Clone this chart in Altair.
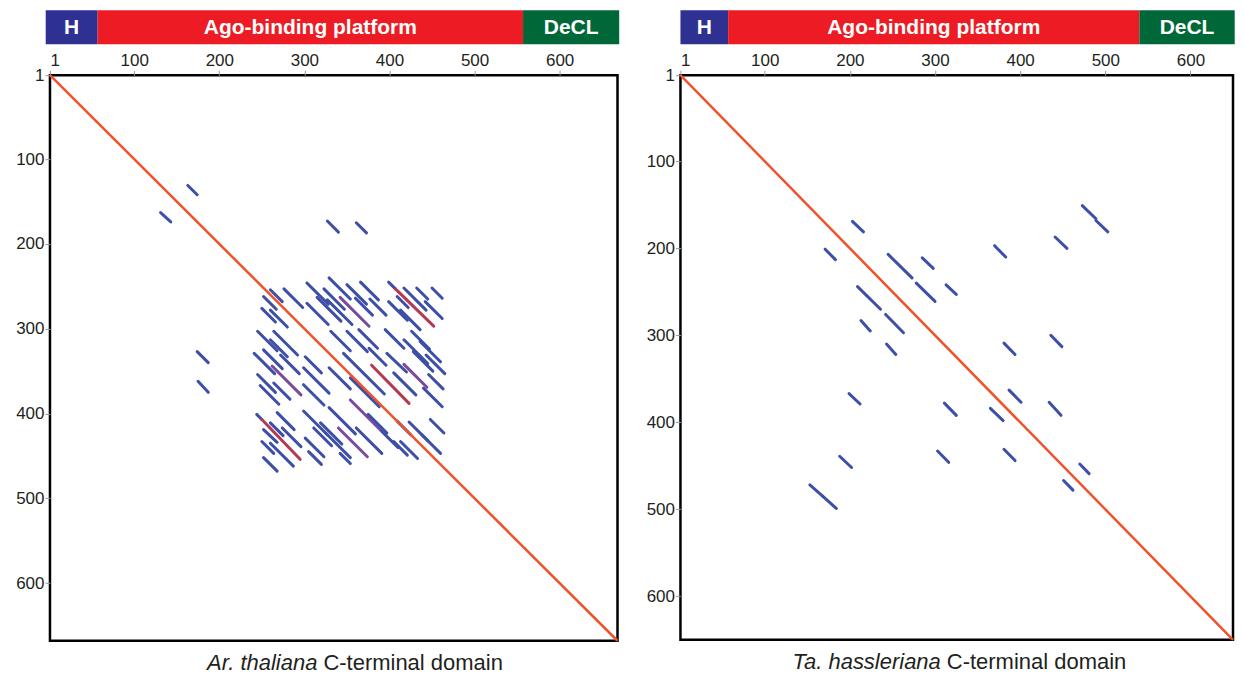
import altair as alt
import pandas as pd

FONT = "Liberation Sans"
TEXT_COLOR = "#231f20"
SEG_COLORS = {"b": "#3d4fa6", "p": "#7a4a9c", "r": "#b23a52"}
DIAG_COLOR = "#f0522a"

# sequence lengths
at_len = 668
th_len = 650

# domain annotation bars
domain_names = ["H", "Ago-binding platform", "DeCL"]
domain_colors = ["#2e3192", "#ed1c24", "#006838"]
at_domain_start = [-4, 57, 557]
at_domain_end = [57, 557, 670]
th_domain_start = [1, 57, 540]
th_domain_end = [57, 540, 652]

tick_values = [1, 100, 200, 300, 400, 500, 600]

# dot-plot matches: (x1, y1, x2, y2, kind)  kind: b=blue, p=purple, r=red
at_segments = [
    (163, 131, 174, 142, "b"), (131, 163, 143, 174, "b"),
    (327, 173, 340, 186, "b"), (361, 175, 373, 187, "b"),
    (174, 327, 187, 340, "b"), (175, 362, 187, 375, "b"),
    # top band
    (303, 246, 328, 271, "b"), (329, 240, 354, 265, "b"), (350, 248, 373, 271, "b"),
    (366, 245, 387, 266, "b"), (323, 253, 347, 277, "b"), (303, 270, 328, 295, "b"),
    (315, 263, 343, 291, "b"), (327, 266, 356, 295, "b"), (342, 263, 376, 297, "p"),
    (360, 264, 380, 284, "b"), (377, 265, 396, 284, "b"), (399, 245, 407, 253, "b"),
    (407, 253, 452, 297, "r"), (409, 262, 422, 275, "b"), (417, 252, 443, 278, "b"),
    (432, 252, 445, 265, "b"), (450, 252, 462, 264, "b"), (399, 268, 421, 290, "b"),
    (413, 278, 436, 301, "b"), (442, 268, 462, 288, "b"), (260, 254, 274, 268, "b"),
    (276, 253, 298, 275, "b"), (252, 262, 267, 277, "b"), (250, 276, 266, 292, "b"),
    (260, 278, 280, 298, "b"),
    # middle band
    (245, 303, 268, 326, "b"), (264, 303, 292, 331, "b"), (260, 313, 280, 333, "b"),
    (241, 329, 265, 353, "b"), (252, 325, 274, 347, "b"), (262, 344, 296, 378, "p"),
    (272, 331, 294, 353, "b"), (245, 354, 266, 375, "b"), (248, 367, 270, 389, "b"),
    (264, 364, 283, 383, "b"), (301, 333, 320, 352, "b"), (299, 366, 323, 390, "b"),
    (299, 346, 329, 376, "b"), (331, 303, 354, 326, "b"), (350, 303, 374, 327, "b"),
    (364, 301, 386, 323, "b"), (346, 329, 394, 377, "b"), (329, 346, 354, 371, "b"),
    (354, 358, 388, 392, "b"), (379, 343, 423, 388, "r"), (376, 323, 396, 343, "b"),
    (395, 301, 417, 323, "b"), (397, 329, 420, 351, "b"), (405, 352, 431, 378, "b"),
    (417, 342, 444, 369, "p"), (417, 313, 445, 341, "b"), (426, 303, 447, 324, "b"),
    (436, 315, 460, 339, "b"), (428, 327, 451, 350, "b"), (443, 331, 465, 353, "b"),
    (446, 354, 463, 371, "b"), (440, 370, 462, 392, "b"),
    # bottom band
    (244, 401, 250, 407, "b"), (250, 407, 295, 454, "r"), (260, 411, 275, 426, "b"),
    (252, 419, 268, 434, "b"), (250, 433, 264, 447, "b"), (268, 399, 288, 419, "b"),
    (274, 417, 296, 439, "b"), (252, 452, 268, 468, "b"), (260, 435, 287, 462, "b"),
    (299, 397, 327, 425, "b"), (311, 417, 332, 438, "b"), (301, 429, 323, 451, "b"),
    (305, 445, 320, 460, "b"), (319, 411, 344, 436, "b"), (325, 423, 354, 452, "b"),
    (340, 417, 374, 451, "p"), (329, 393, 360, 424, "b"), (342, 447, 354, 459, "b"),
    (361, 417, 391, 447, "b"), (354, 384, 390, 420, "p"), (375, 401, 397, 423, "b"),
    (391, 421, 410, 440, "b"), (405, 433, 421, 449, "b"), (409, 409, 425, 425, "b"),
    (413, 433, 433, 453, "b"), (423, 410, 445, 432, "b"), (448, 407, 464, 423, "b"),
    (438, 425, 460, 447, "b"),
]

th_segments = [
    (473, 151, 489, 166, "b"), (489, 168, 503, 181, "b"), (203, 169, 216, 181, "b"),
    (171, 201, 183, 213, "b"), (370, 197, 383, 210, "b"), (441, 187, 455, 200, "b"),
    (245, 207, 273, 234, "b"), (285, 211, 298, 223, "b"), (278, 240, 300, 261, "b"),
    (313, 242, 325, 253, "b"), (209, 244, 236, 270, "b"), (242, 276, 263, 297, "b"),
    (213, 283, 224, 295, "b"), (243, 310, 254, 322, "b"), (381, 309, 394, 322, "b"),
    (436, 300, 449, 313, "b"), (199, 367, 212, 379, "b"), (311, 378, 325, 392, "b"),
    (365, 384, 380, 398, "b"), (387, 363, 401, 377, "b"), (434, 377, 448, 392, "b"),
    (188, 439, 202, 452, "b"), (303, 433, 316, 446, "b"), (381, 431, 394, 444, "b"),
    (470, 448, 481, 459, "b"), (451, 467, 462, 478, "b"), (153, 472, 168, 485, "b"),
    (168, 485, 184, 499, "b"),
]

at_species = "Ar. thaliana"
th_species = "Ta. hassleriana"
title_rest = "C-terminal domain"


def panel(length, segs, dstart, dend, species, width, height):
    xs = alt.Scale(domain=[1, length], nice=False, zero=False)
    ys = alt.Scale(domain=[1, length], nice=False, zero=False, reverse=True)
    axis_common = dict(values=tick_values, labelFont=FONT, labelFontSize=17,
                       labelColor=TEXT_COLOR, tickColor="#999999", tickSize=5,
                       tickWidth=1, domain=False, grid=False, title=None,
                       labelPadding=1)
    x_axis = alt.Axis(orient="top", **axis_common)
    y_axis = alt.Axis(orient="left", **axis_common)
    seg_df = pd.DataFrame(segs, columns=["x", "y", "x2", "y2", "kind"])
    kinds = list(SEG_COLORS.keys())
    segs_layer = alt.Chart(seg_df).mark_rule(strokeWidth=3, strokeCap="round").encode(
        x=alt.X("x:Q", scale=xs, axis=x_axis),
        y=alt.Y("y:Q", scale=ys, axis=y_axis),
        x2="x2:Q", y2="y2:Q",
        color=alt.Color("kind:N", scale=alt.Scale(domain=kinds, range=[SEG_COLORS[k] for k in kinds]), legend=None),
    )
    diag_df = pd.DataFrame({"x": [1], "y": [1], "x2": [length], "y2": [length]})
    diag = alt.Chart(diag_df).mark_rule(strokeWidth=2.5, color=DIAG_COLOR).encode(
        x=alt.X("x:Q", scale=xs, axis=x_axis), y=alt.Y("y:Q", scale=ys, axis=y_axis),
        x2="x2:Q", y2="y2:Q")
    dom_df = pd.DataFrame({"name": domain_names, "start": dstart, "end": dend,
                           "color": domain_colors})
    dom_df["mid"] = (dom_df["start"] + dom_df["end"]) / 2
    bars = alt.Chart(dom_df).mark_rect().encode(
        x=alt.X("start:Q", scale=xs, axis=x_axis), x2="end:Q",
        y=alt.value(-65), y2=alt.value(-31),
        color=alt.Color("color:N", scale=None))
    bar_text = alt.Chart(dom_df).mark_text(font=FONT, fontSize=21, fontWeight="bold",
                                           color="white", baseline="middle").encode(
        x=alt.X("mid:Q", scale=xs, axis=x_axis), y=alt.value(-47), text="name:N")
    split = length * 0.472
    t_df = pd.DataFrame({"pos": [split], "a": [species], "b": [title_rest]})
    t_italic = alt.Chart(t_df).mark_text(font=FONT, fontSize=22, fontStyle="italic",
                                         align="right", baseline="middle",
                                         color=TEXT_COLOR).encode(
        x=alt.X("pos:Q", scale=xs, axis=x_axis), y=alt.value(height + 22), text="a:N")
    t_norm = alt.Chart(t_df).mark_text(font=FONT, fontSize=22, align="left", dx=6,
                                       baseline="middle", color=TEXT_COLOR).encode(
        x=alt.X("pos:Q", scale=xs, axis=x_axis), y=alt.value(height + 22), text="b:N")
    return alt.layer(segs_layer, diag, bars, bar_text, t_italic, t_norm).properties(
        width=width, height=height)


left = panel(at_len, at_segments, at_domain_start, at_domain_end, at_species, 568, 566)
right = panel(th_len, th_segments, th_domain_start, th_domain_end, th_species, 553, 565)

chart = alt.hconcat(left, right, spacing=24).properties(
    padding={"left": 6, "top": 0, "right": 0, "bottom": 0},
    background="white",
).configure_view(stroke="black", strokeWidth=2.5)

chart.save("out.html", embed_options={"renderer": "svg", "actions": False})
